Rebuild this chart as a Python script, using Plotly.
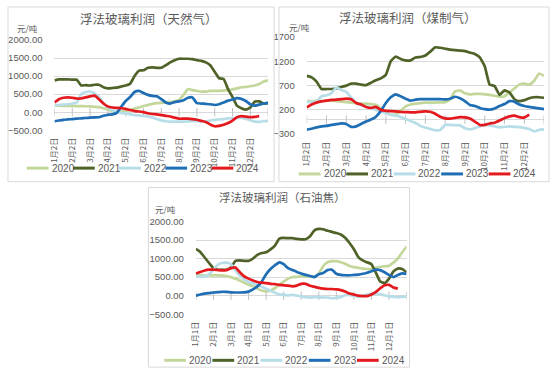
import plotly.graph_objects as go

W, H = 550, 376

years = ["2020", "2021", "2022", "2023", "2024"]
colors = ["#c4d79b", "#4f6228", "#b7dee8", "#1f6eb5", "#e3191e"]

labels_day2 = ["1月2日", "2月2日", "3月2日", "4月2日", "5月2日", "6月2日",
               "7月2日", "8月2日", "9月2日", "10月2日", "11月2日", "12月2日"]
labels_day1 = ["1月1日", "2月1日", "3月1日", "4月1日", "5月1日", "6月1日",
               "7月1日", "8月1日", "9月1日", "10月1日", "11月1日", "12月1日"]

# weekly positions, expressed in months after the first label
weeks = [i / 4 for i in range(49)]

# ---- 天然气 ----
ng_2020 = [180,180,175,175,175,170,170,165,160,150, 140,110,70,30,15,20,40,60,100,130,
           170,200,230,250,260,270,285,300,340,480, 640,610,590,570,570,590,590,590,600,610,
           630,660,690,700,720,740,780,850,880]
ng_2021 = [880,910,910,910,900,900,740,750,740,760, 760,690,660,670,680,710,740,790,1000,1150,
           1160,1230,1240,1230,1230,1300,1380,1440,1480,1480, 1480,1470,1440,1420,1380,1300,1120,940,920,640,
           420,180,110,70,130,290,300,240,250]
ng_2022 = [200,200,210,220,240,270,500,560,570,520, 420,250,120,50,10,-20,-40,-60,-80,-90,
           -100,-120,-150,-190,-230,-250,-260,-260,-260,-260, -255,-250,-250,-255,-255,-230,-210,-200,-190,-170,
           -165,-160,-160,-190,-220,-260,-270,-250,-240]
ng_2023 = [-250,-230,-210,-200,-190,-180,-170,-160,-150,-145, -140,-100,-70,-60,-20,150,310,420,560,590,
           530,480,450,440,360,270,240,280,300,330, 400,410,250,240,230,220,200,220,270,320,
           350,390,370,310,220,180,210,240,260]
ng_2024 = [270,360,400,410,400,380,380,410,440,460, 360,240,160,130,120,110,90,60,30,20,
           0,-30,-50,-60,-80,-100,-120,-150,-180,-180, -180,-190,-210,-240,-270,-340,-390,-380,-350,-300,
           -230,-140,-110,-120,-140,-130,-105]

# ---- 煤制气 ----
cg_2020 = [380,380,385,385,390,390,380,370,360,350, 340,330,330,320,300,230,150,100,110,180,
           270,310,330,340,350,350,350,355,360,420, 580,600,540,520,530,530,520,510,490,470,
           480,560,640,720,740,720,800,950,900]
cg_2021 = [900,870,780,630,630,630,640,670,700,740, 740,720,710,760,810,850,920,1200,1300,1250,
           1220,1220,1280,1290,1320,1400,1490,1480,1460,1440, 1430,1420,1410,1380,1350,1280,1100,720,690,510,
           600,560,420,380,400,440,460,460,450]
cg_2022 = [360,365,375,480,500,540,660,610,570,450, 340,300,270,240,200,160,130,100,80,55,
           10,-30,-70,-130,-170,-195,-220,-215,-110,-110, -115,-120,-180,-200,-180,-140,-110,-120,-140,-160,
           -150,-140,-150,-155,-170,-195,-245,-210,-200]
cg_2023 = [-210,-190,-160,-140,-130,-110,-95,-80,-90,-150, -140,-90,-40,0,60,180,340,460,520,480,
           430,390,410,420,420,420,420,420,415,430, 470,440,380,300,280,240,215,205,230,280,
           320,380,370,310,280,260,245,230,215]
cg_2024 = [250,310,350,375,390,405,410,420,430,420, 340,310,260,240,260,200,180,175,170,160,
           155,150,150,160,170,160,120,60,25,20, 35,50,45,20,-40,-110,-110,-80,-65,-20,
           30,65,80,50,40,100]

# ---- 石油焦 ----
pc_2020 = [540,545,545,545,545,545,540,530,500,460, 410,350,300,250,190,140,115,140,200,290,
           380,460,500,510,520,520,520,510,600,800, 900,930,930,900,860,800,770,750,730,720,
           720,750,780,790,810,890,1000,1170,1320]
pc_2021 = [1260,1180,1030,880,740,700,700,700,760,940, 950,940,940,1000,1100,1150,1170,1250,1350,1540,
           1560,1550,1550,1530,1520,1520,1600,1760,1800,1790, 1750,1720,1690,1650,1560,1420,1250,1040,950,900,
           850,620,380,340,460,650,730,720,630]
pc_2022 = [520,510,520,580,700,840,880,890,850,680, 540,440,370,330,290,240,190,130,80,40,
           20,10,20,0,-20,-40,-50,-40,-40,-50, -50,-70,-60,-40,10,20,-10,-30,0,30,
           50,50,40,10,-20,-30,-40,-30,-25]
pc_2023 = [0,30,55,70,85,95,105,100,90,85, 85,90,110,170,250,380,580,720,820,900,
           850,740,690,640,600,560,530,500,580,610, 690,700,590,560,550,550,560,570,590,620,
           660,700,690,630,560,500,560,600,590]
pc_2024 = [600,640,680,700,700,690,680,690,740,760, 630,520,460,410,370,350,340,320,310,290,
           280,270,250,270,320,320,270,240,210,190, 180,180,170,150,110,60,30,0,-10,-10,
           30,100,200,280,290,220,190]

def px(x):
    return x / W

def py(y):
    return 1 - y / H

panels = [
    dict(series=[ng_2020, ng_2021, ng_2022, ng_2023, ng_2024], labels=labels_day2,
         title="浮法玻璃利润（天然气）", tsize=12.5, tpos=(145, 13), upos=(21.5, 22.5),
         xdom=(49, 265), ydom=(128, 35), yr=(-500, 2000), tick0=-500, fmt=".2f",
         frame=(2, 1, 271, 181), leg=(21, 46.7, 167)),
    dict(series=[cg_2020, cg_2021, cg_2022, cg_2023, cg_2024], labels=labels_day2,
         title="浮法玻璃利润（煤制气）", tsize=12.5, tpos=(406, 12), upos=(297, 21.5),
         xdom=(304, 544), ydom=(132, 32), yr=(-300, 1700), tick0=-300, fmt="d",
         frame=(276, 1, 549, 181), leg=(296, 48, 173)),
    dict(series=[pc_2020, pc_2021, pc_2022, pc_2023, pc_2024], labels=labels_day1,
         title="浮法玻璃利润（石油焦）", tsize=11.5, tpos=(280, 197), upos=(161.5, 209.5),
         xdom=(192, 405), ydom=(317.5, 222), yr=(-500, 2000), tick0=-500, fmt=".2f",
         frame=(144, 187, 408, 372), leg=(160, 48.7, 365)),
]

fig = go.Figure()
shapes = []
annotations = []
grid = "#d9d9d9"
txt = "#595959"
layout = dict(width=W, height=H, margin=dict(l=0, r=0, t=0, b=0),
              paper_bgcolor="white", plot_bgcolor="white", showlegend=False)

for k, p in enumerate(panels):
    sfx = "" if k == 0 else str(k + 1)
    xa, ya = "x" + sfx, "y" + sfx
    # axis tick marks on the zero line
    fig.add_trace(go.Scatter(x=list(range(13)), y=[0] * 13, xaxis=xa, yaxis=ya,
                             mode="markers", hoverinfo="skip",
                             marker=dict(symbol="line-ns", size=6,
                                         line=dict(width=1, color="#bfbfbf"))))
    for yr_, col, vals in zip(years, colors, p["series"]):
        fig.add_trace(go.Scatter(x=weeks[:len(vals)], y=vals, name=yr_, xaxis=xa, yaxis=ya,
                                 mode="lines",
                                 line=dict(color=col, width=2.7, shape="spline", smoothing=0.4)))
    layout["xaxis" + sfx] = dict(
        domain=[px(p["xdom"][0]), px(p["xdom"][1])], anchor=ya, range=[0, 12],
        tickvals=list(range(12)), ticktext=p["labels"], tickangle=-90,
        showgrid=False, zeroline=False, showline=False, ticks="",
        tickfont=dict(family="Noto Sans CJK SC", size=8, color=txt),
        ticklabelstandoff=5)
    layout["yaxis" + sfx] = dict(
        domain=[py(p["ydom"][0]), py(p["ydom"][1])], anchor=xa, range=list(p["yr"]),
        tick0=p["tick0"], dtick=500, tickformat=p["fmt"],
        showgrid=True, gridcolor=grid, gridwidth=1,
        zeroline=True, zerolinecolor=grid, zerolinewidth=1, showline=False, ticks="",
        tickfont=dict(family="Liberation Sans", size=9.5, color=txt),
        ticklabelstandoff=11)
    fx0, fy0, fx1, fy1 = p["frame"]
    shapes.append(dict(type="rect", xref="paper", yref="paper",
                       x0=px(fx0), x1=px(fx1), y0=py(fy1), y1=py(fy0),
                       line=dict(color=grid, width=1), fillcolor="rgba(0,0,0,0)"))
    annotations.append(dict(text=p["title"], xref="paper", yref="paper",
                            x=px(p["tpos"][0]), y=py(p["tpos"][1]), showarrow=False,
                            xanchor="center", yanchor="middle",
                            font=dict(family="Noto Sans CJK SC", size=p["tsize"], color=txt)))
    annotations.append(dict(text="元/吨", xref="paper", yref="paper",
                            x=px(p["upos"][0]), y=py(p["upos"][1]), showarrow=False,
                            xanchor="center", yanchor="middle",
                            font=dict(family="Noto Sans CJK SC", size=8.5, color=txt)))
    lx0, lsp, ly = p["leg"]
    for i, (yr_, col) in enumerate(zip(years, colors)):
        sx = lx0 + i * lsp
        shapes.append(dict(type="line", xref="paper", yref="paper",
                           x0=px(sx), x1=px(sx + 22), y0=py(ly), y1=py(ly),
                           line=dict(color=col, width=3)))
        annotations.append(dict(text=yr_, xref="paper", yref="paper",
                                x=px(sx + 23), y=py(ly), showarrow=False,
                                xanchor="left", yanchor="middle",
                                font=dict(family="Liberation Sans", size=10, color=txt)))

layout["shapes"] = shapes
layout["annotations"] = annotations
fig.update_layout(**layout)
fig.write_html("out.html", config={"displayModeBar": False},
               post_script="document.body.style.margin='0';document.body.style.overflow='hidden';")
